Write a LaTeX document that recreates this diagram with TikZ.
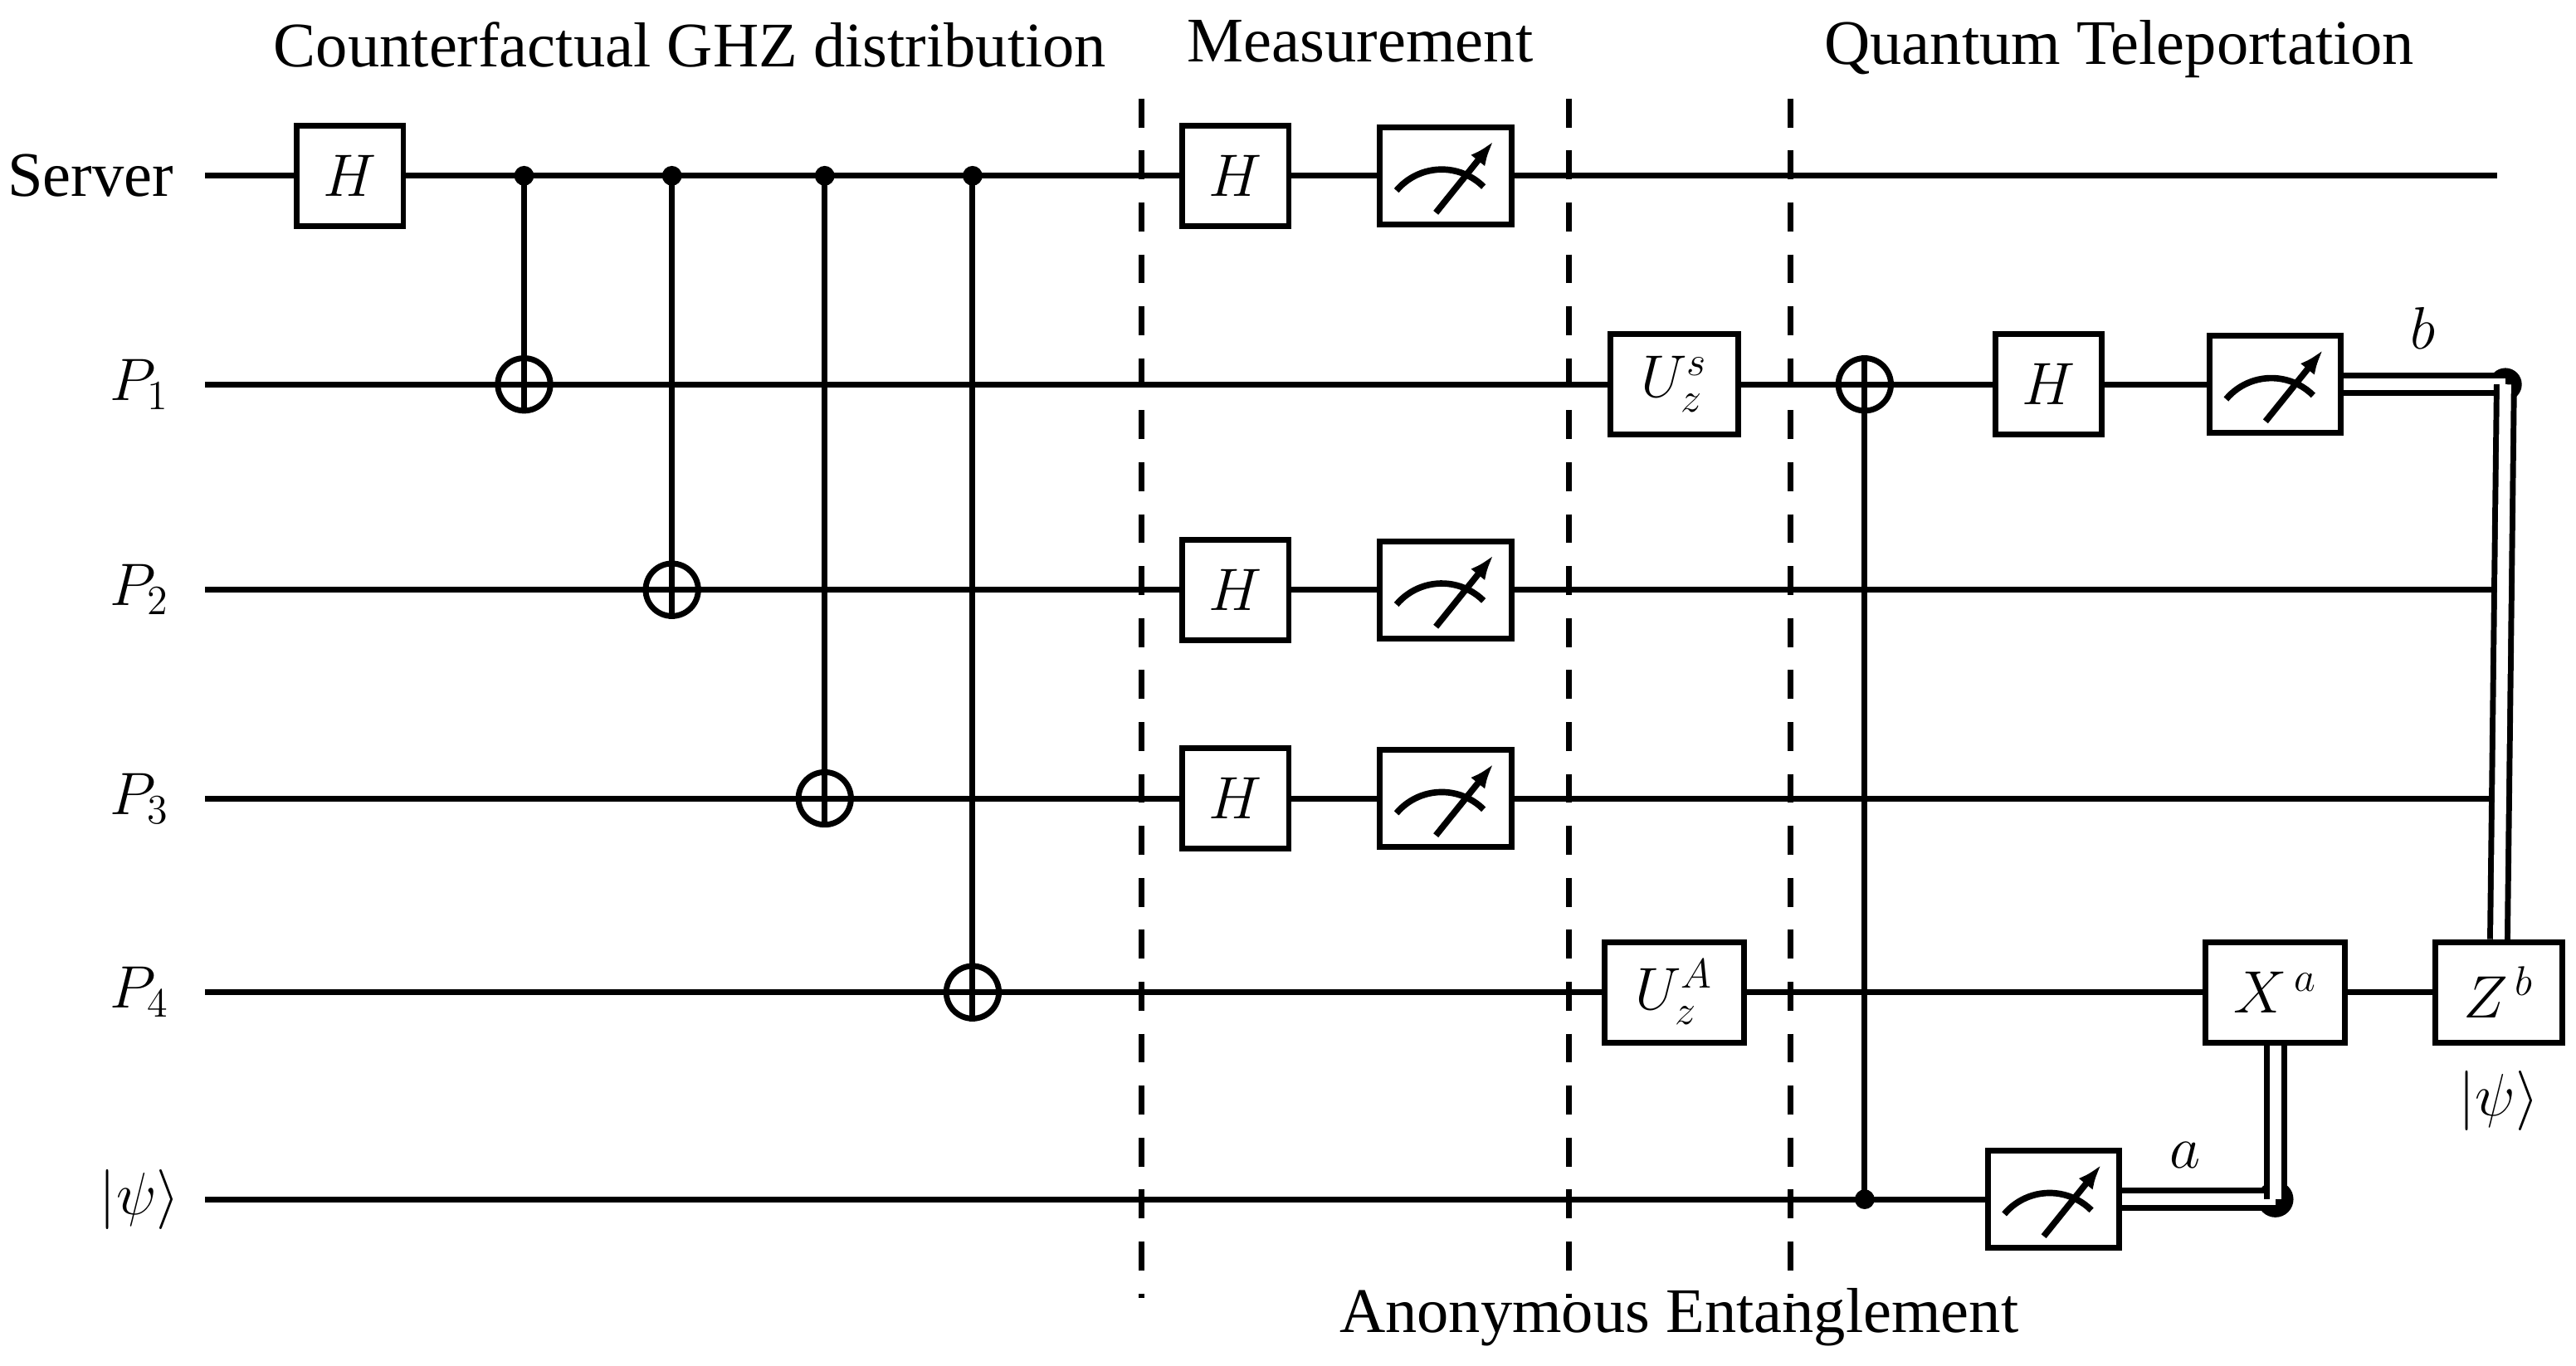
\documentclass[tikz,border=0pt]{standalone}
\usepackage{fontspec}
\setmainfont{Liberation Serif}
\usetikzlibrary{arrows.meta}
\begin{document}
\begin{tikzpicture}[x=0.02cm,y=-0.02cm,line width=2pt,
  every node/.style={font=\fontsize{22}{26}\selectfont},
  gate/.style={draw,fill=white,minimum width=1.3cm,minimum height=1.22cm,inner sep=0pt},
  wgate/.style={gate,minimum width=1.6cm},
  meter/.style={draw,fill=white,minimum width=1.6cm,minimum height=1.18cm,inner sep=0pt,
    path picture={\draw[line width=2.2pt] ([xshift=-0.6cm,yshift=-0.18cm]path picture bounding box.center) arc[start angle=140,end angle=45,radius=0.72cm];
      \draw[line width=2.2pt,-{Latex[length=0.3cm,width=0.22cm]}] ([xshift=-0.12cm,yshift=-0.45cm]path picture bounding box.center) -- ([xshift=0.58cm,yshift=0.42cm]path picture bounding box.center);}},
  targ/.style={draw,circle,minimum size=0.64cm,inner sep=0pt},
  ctrl/.style={circle,fill,minimum size=0.24cm,inner sep=0pt},
  bigdot/.style={circle,fill,minimum size=0.44cm,inner sep=0pt},
  classical/.style={double,double distance=4pt,line width=2pt},
  sep/.style={dash pattern=on 10pt off 8pt},
  lbl/.style={anchor=center}]
\useasboundingbox (0,0) rectangle (1568,831);
\foreach \n/\y in {s/107,p1/234,p2/359,p3/486,p4/604,q/730}{\coordinate (w\n) at (125,\y);}
\coordinate (es) at (1520,107);
\coordinate (e2) at (1520,359);
\coordinate (e3) at (1520,486);
\node (ls) at (55,107) {Server};
\node (l1) at (85,234) {$P_1$};
\node (l2) at (85,359) {$P_2$};
\node (l3) at (85,486) {$P_3$};
\node (l4) at (85,604) {$P_4$};
\node (lq) at (85,730) {$|\psi\rangle$};
\node (t1) at (420,27) {Counterfactual GHZ distribution};
\node (t2) at (828,25) {Measurement};
\node (t3) at (1290,30) {Quantum Teleportation};
\node (t4) at (1022,802) {Anonymous Entanglement};
\draw (ws) -- (es);
\draw (wp1) -- (1425,234);
\draw (wp2) -- (e2);
\draw (wp3) -- (e3);
\draw (wp4) -- (1520,604);
\draw (wq) -- (1250,730);
\foreach \x/\n in {695/a,955/b,1090/c}{\draw[sep] (\x,60) coordinate (d\n1) -- (\x,790) coordinate (d\n2);}
\node[gate] (h0) at (213,107) {$H$};
\foreach \x/\i in {319/1,409/2,502/3,592/4}{
  \node[ctrl] (c\i) at (\x,107) {};
}
\node[targ] (x1) at (319,234) {};
\node[targ] (x2) at (409,359) {};
\node[targ] (x3) at (502,486) {};
\node[targ] (x4) at (592,604) {};
\foreach \i in {1,2,3,4}{\draw (c\i.center) -- (x\i.south); \draw (x\i.west) -- (x\i.east);}
\node[gate] (hs) at (752,107) {$H$};
\node[meter] (ms) at (880,107) {};
\node[gate] (h2) at (752,359) {$H$};
\node[meter] (m2) at (880,359) {};
\node[gate] (h3) at (752,486) {$H$};
\node[meter] (m3) at (880,486) {};
\node[wgate,minimum width=1.56cm] (us) at (1019,234) {$U_z^s$};
\node[wgate,minimum width=1.7cm] (ua) at (1019,604) {$U_z^A$};
\node[targ] (xt) at (1135,234) {};
\node[ctrl] (ct) at (1135,730) {};
\draw (ct.center) -- (xt.north); \draw (xt.west) -- (xt.east);
\node[gate] (ht) at (1247,234) {$H$};
\node[meter] (mb) at (1385,234) {};
\node[meter] (ma) at (1250,730) {};
\node[wgate,minimum width=1.7cm] (xa) at (1385,604) {$X^{\,a}$};
\node[gate,minimum width=1.54cm] (zb) at (1521,604) {$Z^{\,b}$};
\node[bigdot] (da) at (1385,730) {};
\node[ctrl,minimum size=0.4cm] (db) at (1525,234) {};
\draw[classical] (ma.east) -- (da.center);
\draw[classical] (da.center) -- (xa.south);
\draw[classical] (mb.east) -- (db.center);
\draw[classical] (db.center) -- (zb.north);
\node (la) at (1330,703) {$a$};
\node (lb) at (1475,200) {$b$};
\node (lz) at (1521,670) {$|\psi\rangle$};
\end{tikzpicture}
\end{document}
